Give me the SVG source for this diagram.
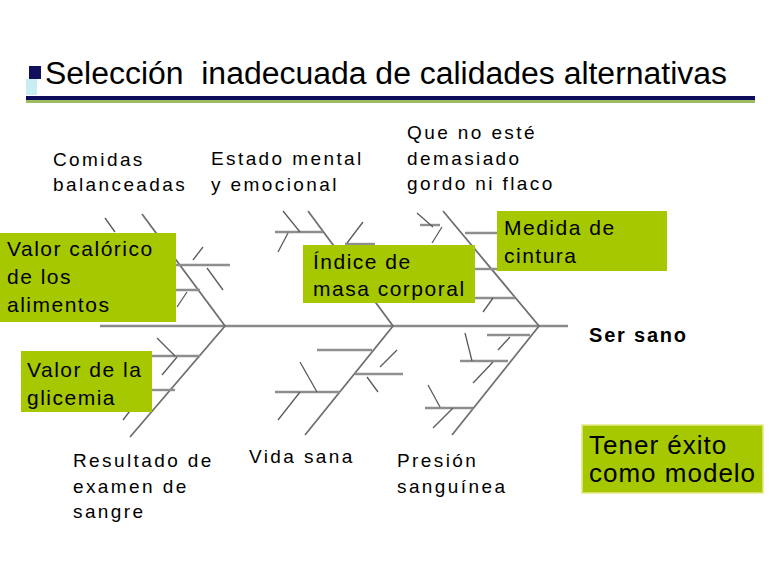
<svg xmlns="http://www.w3.org/2000/svg" width="780" height="581" viewBox="0 0 780 581">
<style>
.t{font-family:"Liberation Sans",Arial,sans-serif;fill:#000}
.p{font-size:19px;letter-spacing:2.4px}
.b{font-size:21px;letter-spacing:1.5px}
.box{fill:#a6c800}
.sp{stroke:#8a8a8a;stroke-width:2.6;fill:none}
.br{stroke:#707070;stroke-width:1.8;fill:none}
.rb{stroke:#8e8e8e;stroke-width:2.4;fill:none}
.tk{stroke:#5a5a5a;stroke-width:1.3;fill:none}
</style>
<rect width="780" height="581" fill="#fff"/>
<g id="title">
<rect x="26" y="79" width="11" height="16" fill="#c8eef4"/>
<rect x="29" y="66" width="12" height="13" fill="#10105e"/>
<text class="t" x="45" y="84" font-size="31" textLength="682" lengthAdjust="spacingAndGlyphs">Selección&#160; inadecuada de calidades alternativas</text>
<rect x="26" y="96" width="729" height="4" fill="#0d0d5c"/>
<rect x="26" y="100" width="729" height="3" fill="#9dbb61"/>
</g>
<g id="connectors">
<line class="sp" x1="100" y1="326" x2="568" y2="326"/>
<polyline class="br" points="142,214 225,326 130,437"/>
<polyline class="br" points="308,211 393,326 305,435"/>
<polyline class="br" points="443,211 539,326 452,435"/>
<line class="rb" x1="150" y1="265" x2="230" y2="265"/>
<line class="rb" x1="150" y1="290" x2="200" y2="290"/>
<line class="rb" x1="275" y1="232" x2="323" y2="232"/>
<line class="rb" x1="345" y1="244" x2="375" y2="244"/>
<line class="rb" x1="420" y1="225" x2="440" y2="225"/>
<line class="rb" x1="465" y1="233" x2="500" y2="233"/>
<line class="rb" x1="475" y1="269" x2="500" y2="269"/>
<line class="rb" x1="470" y1="298" x2="515" y2="298"/>
<line class="rb" x1="147" y1="356" x2="200" y2="356"/>
<line class="rb" x1="150" y1="390" x2="175" y2="390"/>
<line class="rb" x1="317" y1="350" x2="372" y2="350"/>
<line class="rb" x1="355" y1="374" x2="403" y2="374"/>
<line class="rb" x1="275" y1="392" x2="340" y2="392"/>
<line class="rb" x1="487" y1="335" x2="530" y2="335"/>
<line class="rb" x1="460" y1="361" x2="508" y2="361"/>
<line class="rb" x1="425" y1="408" x2="473" y2="408"/>
<line class="tk" x1="105" y1="218" x2="115" y2="232"/>
<line class="tk" x1="193" y1="260" x2="203" y2="247"/>
<line class="tk" x1="207" y1="268" x2="223" y2="290"/>
<line class="tk" x1="177" y1="307" x2="187" y2="292"/>
<line class="tk" x1="283" y1="211" x2="300" y2="232"/>
<line class="tk" x1="278" y1="252" x2="288" y2="233"/>
<line class="tk" x1="347" y1="243" x2="363" y2="222"/>
<line class="tk" x1="417" y1="213" x2="433" y2="227"/>
<line class="tk" x1="432" y1="243" x2="442" y2="227"/>
<line class="tk" x1="483" y1="312" x2="493" y2="298"/>
<line class="tk" x1="157" y1="338" x2="175" y2="356"/>
<line class="tk" x1="162" y1="375" x2="177" y2="357"/>
<line class="tk" x1="123" y1="420" x2="133" y2="407"/>
<line class="tk" x1="380" y1="367" x2="397" y2="350"/>
<line class="tk" x1="367" y1="377" x2="378" y2="392"/>
<line class="tk" x1="300" y1="362" x2="317" y2="392"/>
<line class="tk" x1="278" y1="420" x2="300" y2="392"/>
<line class="tk" x1="498" y1="350" x2="510" y2="337"/>
<line class="tk" x1="465" y1="333" x2="472" y2="361"/>
<line class="tk" x1="473" y1="383" x2="493" y2="362"/>
<line class="tk" x1="428" y1="385" x2="440" y2="407"/>
<line class="tk" x1="433" y1="428" x2="453" y2="408"/>
</g>
<g id="comidas">
<text class="t p" x="53" y="166">Comidas</text>
<text class="t p" x="53" y="191">balanceadas</text>
</g>
<g id="estado">
<text class="t p" x="211" y="165">Estado mental</text>
<text class="t p" x="211" y="191">y emocional</text>
</g>
<g id="gordo">
<text class="t p" x="407" y="139">Que no esté</text>
<text class="t p" x="407" y="165">demasiado</text>
<text class="t p" x="407" y="190">gordo ni flaco</text>
</g>
<g id="valorcal">
<rect class="box" x="0" y="233" width="176" height="89"/>
<text class="t b" x="7" y="256">Valor calórico</text>
<text class="t b" x="7" y="284">de los</text>
<text class="t b" x="7" y="312">alimentos</text>
</g>
<g id="indice">
<rect class="box" x="303" y="245" width="172" height="58"/>
<text class="t b" x="313" y="269">Índice de</text>
<text class="t b" x="313" y="296">masa corporal</text>
</g>
<g id="medida">
<rect class="box" x="497" y="211" width="170" height="60"/>
<text class="t b" x="504" y="235">Medida de</text>
<text class="t b" x="504" y="263">cintura</text>
</g>
<g id="sersano">
<text class="t" x="589" y="342" font-size="20" font-weight="bold" letter-spacing="1.8">Ser sano</text>
</g>
<g id="glicemia">
<rect class="box" x="21" y="351" width="131" height="61"/>
<text class="t b" x="27" y="377">Valor de la</text>
<text class="t b" x="27" y="405">glicemia</text>
</g>
<g id="resultado">
<text class="t p" x="73" y="467">Resultado de</text>
<text class="t p" x="73" y="493">examen de</text>
<text class="t p" x="73" y="518">sangre</text>
</g>
<g id="vida">
<text class="t p" x="249" y="463">Vida sana</text>
</g>
<g id="presion">
<text class="t p" x="397" y="467">Presión</text>
<text class="t p" x="397" y="493">sanguínea</text>
</g>
<g id="tener">
<rect x="582" y="425" width="181" height="68" fill="#a6c800" stroke="#e6e98a" stroke-width="1.5"/>
<text class="t" x="589" y="454" font-size="26" letter-spacing="1">Tener éxito</text>
<text class="t" x="589" y="482" font-size="26" letter-spacing="1">como modelo</text>
</g>
</svg>
